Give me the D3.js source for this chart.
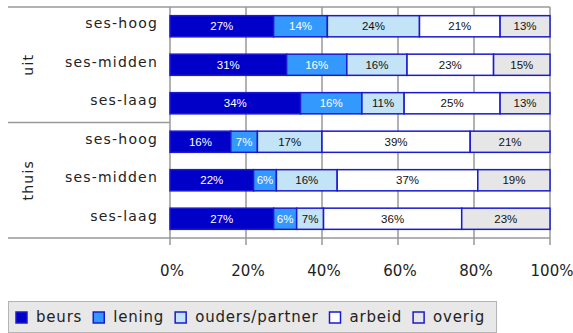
<!DOCTYPE html>
<html>
<head>
<meta charset="utf-8">
<script src="https://cdn.jsdelivr.net/npm/d3@7"></script>
<style>
  html, body { margin: 0; padding: 0; background: #fff; }
  svg { display: block; }
  .cat { font-family: "DejaVu Sans", sans-serif; font-size: 14px; letter-spacing: 1.2px; fill: #222; }
  .tick-label { font-family: "DejaVu Sans", sans-serif; font-size: 15px; fill: #222; }
  .val { font-family: "Liberation Sans", Arial, sans-serif; font-size: 11.5px; }
  .leg { font-family: "DejaVu Sans", sans-serif; font-size: 15px; letter-spacing: 0.8px; fill: #222; }
</style>
</head>
<body>
<svg id="chart" width="573" height="333"></svg>
<script>
// Study financing sources by living situation and socio-economic status
const groups = ["uit", "thuis"];
const categories = ["ses-hoog", "ses-midden", "ses-laag"];
const series = ["beurs", "lening", "ouders/partner", "arbeid", "overig"];

const uitValues = [
  [27, 14, 24, 21, 13],   // ses-hoog
  [31, 16, 16, 23, 15],   // ses-midden
  [34, 16, 11, 25, 13]    // ses-laag
];
const thuisValues = [
  [16, 7, 17, 39, 21],
  [22, 6, 16, 37, 19],
  [27, 6, 7, 36, 23]
];
const tickValues = [0, 0.2, 0.4, 0.6, 0.8, 1];

const fills = ["#0000c8", "#3399ff", "#c3e3f7", "#ffffff", "#e6e6e6"];
const textColors = ["#fff", "#fff", "#111", "#111", "#111"];
const barStroke = "#1a1ad0";
const gridColor = "#999";

// one row per group/category combination
const rows = [];
groups.forEach((g, gi) => {
  const vals = gi === 0 ? uitValues : thuisValues;
  categories.forEach((c, ci) => {
    const r = { key: g + "|" + c, group: g, cat: c };
    series.forEach((s, si) => { r[s] = vals[ci][si]; });
    rows.push(r);
  });
});

const svg = d3.select("#chart");
const plotLeft = 170, plotRight = 550, plotTop = 7, plotBottom = 238;

const x = d3.scaleLinear().domain([0, 1]).range([plotLeft, plotRight]);
const y = d3.scaleBand()
  .domain(rows.map(r => r.key))
  .range([plotTop, plotBottom])
  .paddingInner(0.45)
  .paddingOuter(0.225);

// percent-stacked layout
const stack = d3.stack().keys(series).offset(d3.stackOffsetExpand);
const stacked = stack(rows);

// frame and grid
const grid = svg.append("g");
grid.selectAll("line.v").data(tickValues).join("line")
  .attr("x1", d => x(d)).attr("x2", d => x(d))
  .attr("y1", plotTop).attr("y2", plotBottom + 7)
  .attr("stroke", gridColor).attr("stroke-width", 1.5);
grid.append("line")
  .attr("x1", 8).attr("x2", plotRight).attr("y1", plotTop).attr("y2", plotTop)
  .attr("stroke", gridColor).attr("stroke-width", 1.5);
grid.append("line")
  .attr("x1", 8).attr("x2", plotRight).attr("y1", plotBottom).attr("y2", plotBottom)
  .attr("stroke", gridColor).attr("stroke-width", 1.5);
// separator between the two groups
const sepY = (y(rows[2].key) + y.bandwidth() + y(rows[3].key)) / 2;
grid.append("line")
  .attr("x1", 8).attr("x2", plotLeft).attr("y1", sepY).attr("y2", sepY)
  .attr("stroke", gridColor).attr("stroke-width", 1.5);

// bars
const layers = svg.append("g").selectAll("g").data(stacked).join("g");
layers.selectAll("rect").data(d => d).join("rect")
  .attr("x", d => x(d[0]))
  .attr("y", d => y(d.data.key))
  .attr("width", d => x(d[1]) - x(d[0]))
  .attr("height", y.bandwidth())
  .attr("fill", function() { return fills[d3.select(this.parentNode).datum().index]; })
  .attr("stroke", barStroke)
  .attr("stroke-width", 1.5);

// value labels
layers.each(function(layer) {
  d3.select(this).selectAll("text").data(layer).join("text")
    .attr("class", "val")
    .attr("x", d => (x(d[0]) + x(d[1])) / 2)
    .attr("y", d => y(d.data.key) + y.bandwidth() / 2)
    .attr("text-anchor", "middle")
    .attr("dominant-baseline", "central")
    .attr("fill", textColors[layer.index])
    .text(d => d.data[layer.key] + "%");
});

// category labels
svg.append("g").selectAll("text").data(rows).join("text")
  .attr("class", "cat")
  .attr("x", 158)
  .attr("y", d => y(d.key) + y.bandwidth() / 2 - 3)
  .attr("text-anchor", "end")
  .attr("dominant-baseline", "central")
  .text(d => d.cat);

// group labels
groups.forEach((g, gi) => {
  const first = y(rows[gi * 3].key);
  const last = y(rows[gi * 3 + 2].key) + y.bandwidth();
  const cy = (first + last) / 2;
  svg.append("text")
    .attr("class", "cat")
    .attr("transform", `translate(28,${cy}) rotate(-90)`)
    .attr("text-anchor", "middle")
    .attr("dominant-baseline", "central")
    .text(g);
});

// x axis tick labels
svg.append("g").selectAll("text").data(tickValues).join("text")
  .attr("class", "tick-label")
  .attr("x", d => x(d) + 2)
  .attr("y", 271)
  .attr("text-anchor", "middle")
  .attr("dominant-baseline", "central")
  .text(d3.format(".0%"));

// legend
const legend = svg.append("g");
legend.append("rect")
  .attr("x", 8.5).attr("y", 301.5).attr("height", 31).attr("width", 488)
  .attr("fill", "#e8e8e8").attr("stroke", "#b4b4b4").attr("stroke-width", 1);
let lx = 16;
series.forEach((s, i) => {
  legend.append("rect")
    .attr("x", lx).attr("y", 312).attr("width", 11).attr("height", 11)
    .attr("fill", fills[i]).attr("stroke", barStroke).attr("stroke-width", 1.5);
  const t = legend.append("text")
    .attr("class", "leg")
    .attr("x", lx + 20).attr("y", 317)
    .attr("dominant-baseline", "central")
    .text(s);
  lx += 20 + t.node().getComputedTextLength() + 11;
});
</script>
</body>
</html>
